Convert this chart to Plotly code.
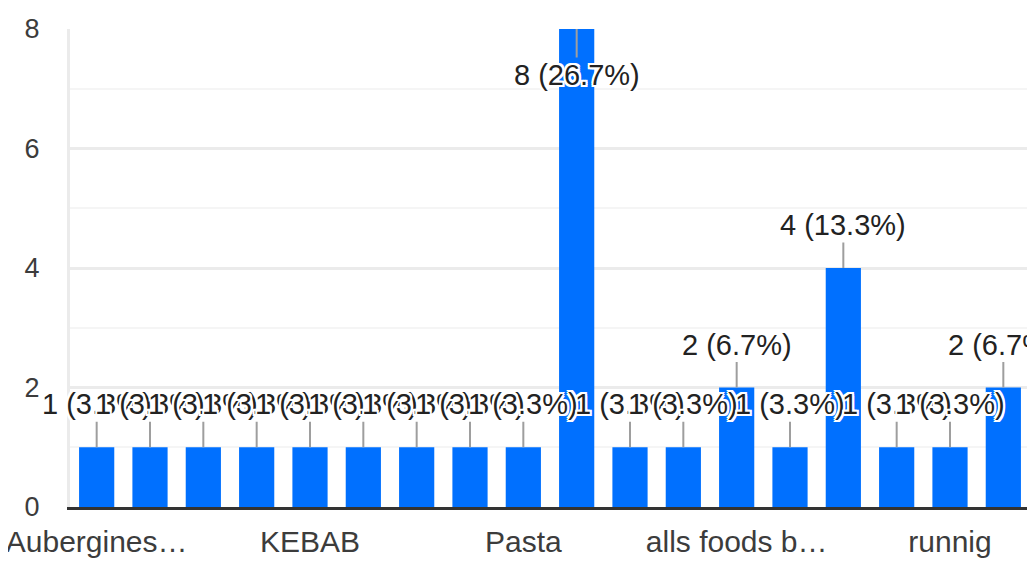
import plotly.graph_objects as go

# response counts per answer (18 answers, only every 4th label is shown)
counts = [1, 1, 1, 1, 1, 1, 1, 1, 1, 8, 1, 1, 2, 1, 4, 1, 1, 2]
tick_labels = ["Aubergines…", "KEBAB", "Pasta", "alls foods b…", "runnig"]
y_max = 8

total = sum(counts)
xs = list(range(len(counts)))
font_family = "Arial, Liberation Sans, sans-serif"

fig = go.Figure(
    go.Bar(x=xs, y=counts, marker_color="#0070ff", marker_line_width=0, hoverinfo="skip")
)

halo = ", ".join(
    f"{dx}px {dy}px 0 #fff" for dx in (-2, 0, 2) for dy in (-2, 0, 2) if dx or dy
)

for x, v in zip(xs, counts):
    # label sits above the bar, or below the top edge when there is no room
    ay = -43 if v < y_max else 46
    fig.add_annotation(
        x=x, y=v, text=f"{v} ({v / total * 100:.1f}%)",
        showarrow=True, arrowhead=0, arrowwidth=2, arrowcolor="#9e9e9e",
        ax=0, ay=ay, standoff=0,
        font=dict(family=font_family, size=29, color="#222", shadow=halo),
    )

# the page body has an 8px margin, so the figure is sized to fill the rest
fig.update_layout(
    width=1027, height=558,
    margin=dict(l=62, r=5, t=21, b=59),
    paper_bgcolor="white", plot_bgcolor="white",
    bargap=0.34, showlegend=False,
    font=dict(family=font_family, size=30, color="#3c3c3c"),
)
fig.update_xaxes(
    range=[-0.5, len(counts) - 0.5], automargin=False,
    tickvals=xs[::4], ticktext=tick_labels, ticklabeloverflow="allow",
    showgrid=False, zeroline=False,
    showline=True, linecolor="#333", linewidth=3,
    ticklabelstandoff=6,
)
fig.update_yaxes(
    range=[0, y_max], dtick=2, automargin=False,
    tickfont=dict(size=27),
    showgrid=True, gridcolor="#ebebeb", gridwidth=3,
    minor=dict(dtick=1, showgrid=True, gridcolor="#f5f5f5", gridwidth=2),
    zeroline=False,
    showline=True, mirror=True, linecolor="#ebebeb", linewidth=3,
    ticklabelstandoff=22,
)

fig.write_html("out.html")
